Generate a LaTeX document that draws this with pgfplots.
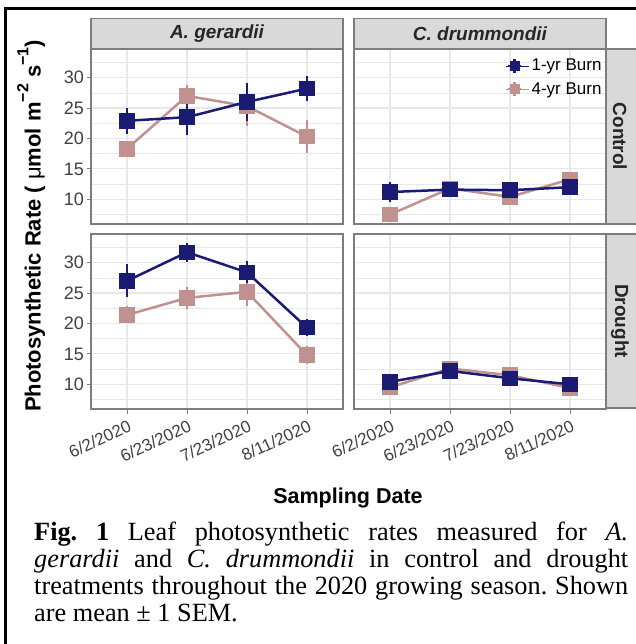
\documentclass[border=0pt]{standalone}
\usepackage{fontspec}
\setmainfont{Liberation Serif}
\setsansfont{Liberation Sans}
\usepackage{pgfplots}
\pgfplotsset{compat=1.18}
\definecolor{navy}{RGB}{27,27,115}
\definecolor{rosy}{RGB}{192,145,143}
\definecolor{bord}{RGB}{125,125,125}
\definecolor{stripfill}{RGB}{217,217,217}
\definecolor{gridc}{RGB}{232,232,232}
\pgfplotsset{
  panel/.style={
    scale only axis, width=252pt, height=175pt,
    xmin=0.4, xmax=4.6, ymin=5.95, ymax=34.7,
    xtick={1,2,3,4}, ytick={10,15,20,25,30},
    minor ytick={7.5,12.5,17.5,22.5,27.5,32.5},
    grid=both,
    major grid style={draw=gridc, line width=1.1pt},
    minor grid style={draw=gridc, line width=0.6pt},
    axis line style={draw=bord, line width=1.3pt},
    tick align=outside, major tick length=4.5pt, minor tick length=0pt,
    tick style={draw=bord, line width=1pt},
    xtick pos=bottom, ytick pos=left,
    xticklabels={}, yticklabels={},
    yticklabel style={font=\sffamily\fontsize{18}{18}\selectfont, text=black!75, inner sep=2.5pt},
    xticklabel style={font=\sffamily\fontsize{17}{17}\selectfont, text=black!75, rotate=25, anchor=north east, inner sep=2pt, yshift=-3pt},
  },
  leftpanel/.style={yticklabels={10,15,20,25,30}},
  rightpanel/.style={ymajorticks=false},
  toppanel/.style={xmajorticks=false},
  botpanel/.style={xticklabels={6/2/2020,6/23/2020,7/23/2020,8/11/2020}},
  nav/.style={color=navy, line width=2.5pt, mark=square*, mark size=6.5pt, mark options={solid},
    error bars/.cd, y dir=both, y explicit, error mark=none, error bar style={line width=2.5pt, navy}},
  ros/.style={color=rosy, line width=2.5pt, mark=square*, mark size=6.5pt, mark options={solid},
    error bars/.cd, y dir=both, y explicit, error mark=none, error bar style={line width=2.5pt, rosy}},
  legimg/.style={legend image code/.code={
    \path (0pt,0pt) -- (23pt,0pt);
    \draw[line width=2.5pt] (8pt,-7pt) -- (8pt,7pt);
    \draw[line width=2.5pt] (1.5pt,0pt) -- (14.5pt,0pt);
    \fill (3.5pt,-4.5pt) rectangle (12.5pt,4.5pt);}},
}
\begin{document}
\begin{tikzpicture}
\useasboundingbox (0pt,0pt) rectangle (635pt,-644pt);
% top-left: A. gerardii, Control
\begin{axis}[panel, leftpanel, toppanel, at={(91pt,-49pt)}, anchor=north west]
\addplot+[ros] coordinates {(1,18.3) +- (0,0.3) (2,27.0) +- (0,1.8) (3,25.3) +- (0,3.2) (4,20.3) +- (0,2.7)};
\addplot+[nav] coordinates {(1,22.9) +- (0,2.1) (2,23.5) +- (0,3.0) (3,26.0) +- (0,3.1) (4,28.2) +- (0,2.0)};
\end{axis}
% top-right: C. drummondii, Control
\begin{axis}[panel, rightpanel, toppanel, at={(354pt,-49pt)}, anchor=north west,
  legend style={draw=none, fill=none, at={(0.995,0.96)}, anchor=north east,
    font=\sffamily\fontsize{17}{17}\selectfont, row sep=6pt, inner sep=1pt},
  legend cell align=left]
\addlegendimage{navy, legimg}\addlegendentry{1-yr Burn}
\addlegendimage{rosy, legimg}\addlegendentry{4-yr Burn}
\addplot+[forget plot, ros] coordinates {(1,7.5) +- (0,0.4) (2,11.8) +- (0,0.4) (3,10.4) +- (0,0.5) (4,13.3) +- (0,0.7)};
\addplot+[forget plot, nav] coordinates {(1,11.2) +- (0,1.7) (2,11.6) +- (0,0.6) (3,11.5) +- (0,0.5) (4,12.0) +- (0,0.7)};
\end{axis}
% bottom-left: A. gerardii, Drought
\begin{axis}[panel, leftpanel, botpanel, at={(91pt,-234pt)}, anchor=north west]
\addplot+[ros] coordinates {(1,21.4) +- (0,1.4) (2,24.2) +- (0,1.8) (3,25.2) +- (0,2.3) (4,14.8) +- (0,1.5)};
\addplot+[nav] coordinates {(1,27.0) +- (0,2.7) (2,31.7) +- (0,1.6) (3,28.4) +- (0,1.8) (4,19.3) +- (0,1.4)};
\end{axis}
% bottom-right: C. drummondii, Drought
\begin{axis}[panel, rightpanel, botpanel, at={(354pt,-234pt)}, anchor=north west]
\addplot+[ros] coordinates {(1,9.5) +- (0,0.5) (2,12.6) +- (0,0.6) (3,11.5) +- (0,0.5) (4,9.4) +- (0,0.5)};
\addplot+[nav] coordinates {(1,10.4) +- (0,0.6) (2,12.2) +- (0,0.6) (3,11.0) +- (0,0.5) (4,10.0) +- (0,0.7)};
\end{axis}
% strips
\draw[fill=stripfill, draw=bord, line width=1.3pt] (91pt,-18.5pt) rectangle (343pt,-49pt);
\draw[fill=stripfill, draw=bord, line width=1.3pt] (354pt,-18.5pt) rectangle (606pt,-49pt);
\draw[fill=stripfill, draw=bord, line width=1.3pt] (606pt,-49pt) rectangle (645pt,-224pt);
\draw[fill=stripfill, draw=bord, line width=1.3pt] (606pt,-234pt) rectangle (645pt,-408pt);
\node[font=\sffamily\bfseries\itshape\fontsize{19}{19}\selectfont, text=black!85] at (217pt,-34pt) {A. gerardii};
\node[font=\sffamily\bfseries\itshape\fontsize{19}{19}\selectfont, text=black!85] at (480pt,-34pt) {C. drummondii};
\node[rotate=-90, font=\sffamily\bfseries\fontsize{19}{19}\selectfont, text=black!85] at (620pt,-136.5pt) {Control};
\node[rotate=-90, font=\sffamily\bfseries\fontsize{19}{19}\selectfont, text=black!85] at (620pt,-321pt) {Drought};
% axis titles
\node[font=\sffamily\bfseries\fontsize{21.5}{21.5}\selectfont, anchor=base] at (348pt,-503pt) {Sampling Date};
\node[rotate=90, anchor=base, font=\sffamily\bfseries\fontsize{22}{22}\selectfont] at (40.5pt,-226pt)
  {Photosynthetic Rate ( {\mdseries μ}mol m\raisebox{0.55em}{\fontsize{16}{16}\selectfont −2} s\raisebox{0.55em}{\fontsize{16}{16}\selectfont −1})};
% caption
\node[anchor=base west, text width=594pt, align=justify, inner sep=0pt,
  font=\fontsize{26.3}{27}\selectfont] at (34pt,-540pt)
  {\frenchspacing\hyphenpenalty=10000 \textbf{Fig. 1} Leaf photosynthetic rates measured for \textit{A.}\linebreak
   \textit{gerardii} and \textit{C. drummondii} in control and drought\linebreak
   treatments throughout the 2020 growing season. Shown\linebreak
   are mean ± 1 SEM.};
% frame
\draw[line width=2.5pt] (5.5pt,-650pt) -- (5.5pt,-8.5pt) -- (650pt,-8.5pt);
\end{tikzpicture}
\end{document}
